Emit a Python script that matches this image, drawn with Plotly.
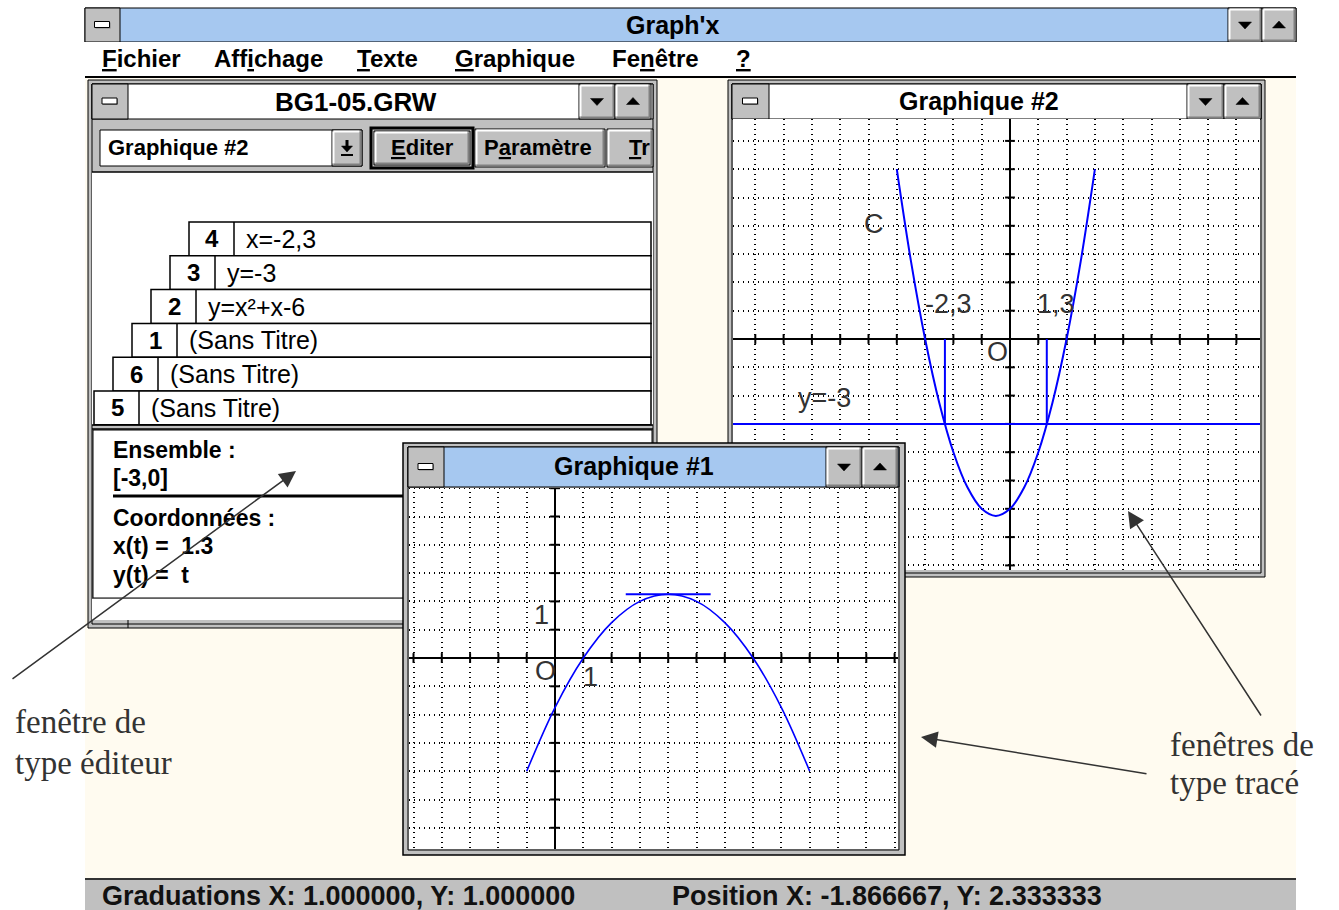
import plotly.graph_objects as go

W, H = 1339, 910
U = 28.3  # pixels per graph unit (both plot windows)

# ---------------- data / texts ----------------
MENU_ITEMS = ["<u>F</u>ichier", "Aff<u>i</u>chage", "<u>T</u>exte", "<u>G</u>raphique", "Fe<u>n</u>être", "<u>?</u>"]
MENU_X = [102, 214, 357, 455, 612, 736]

ROW_NUMS = ["4", "3", "2", "1", "6", "5"]
ROW_LABELS = ["x=-2,3", "y=-3", "y=x²+x-6", "(Sans Titre)", "(Sans Titre)", "(Sans Titre)"]

INFO_LINES = ["Ensemble :", "[-3,0]", "Coordonnées :", "x(t) =\u00a0\u00a01.3", "y(t) =\u00a0\u00a0t"]
INFO_Y = [450, 478, 518, 546, 575]

# Graphique #2 : y = x²+x-6 (points read on the plot)
G2_CURVE_X = [-4, -3.5, -3, -2.5, -2, -1.5, -1, -0.5, 0, 0.5, 1, 1.5, 2, 2.5, 3]
G2_CURVE_Y = [6, 2.75, 0, -2.25, -4, -5.25, -6, -6.25, -6, -5.25, -4, -2.25, 0, 2.75, 6]
G2_HLINE_X = [-10, 9]
G2_HLINE_Y = [-3, -3]
G2_VSEG_X = [-2.3, 1.3]
G2_VSEG_Y = [0, -3]
G2_LABELS = ["C", "-2,3", "1,3", "O", "y=-3"]
G2_LABEL_X = [-4.81, -2.19, 1.61, -0.44, -6.54]
G2_LABEL_Y = [4.06, 1.24, 1.24, -0.46, -2.08]
G2_TICKS_X = list(range(-9, 9))
G2_TICKS_Y = list(range(-8, 8))

# Graphique #1 : parabole + tangente horizontale au sommet
G1_CURVE_X = [-1, 0, 1, 2, 3, 4, 5, 6, 7, 8, 9]
G1_CURVE_Y = [-4, -1.75, 0, 1.25, 2, 2.25, 2, 1.25, 0, -1.75, -4]
G1_TAN_X = [2.5, 5.5]
G1_TAN_Y = [2.25, 2.25]
G1_LABELS = ["1", "O", "1"]
G1_LABEL_X = [-0.46, -0.32, 1.27]
G1_LABEL_Y = [1.52, -0.46, -0.67]
G1_TICKS_X = list(range(-5, 13))
G1_TICKS_Y = list(range(-6, 7))

STATUS_TEXTS = ["Graduations X: 1.000000, Y: 1.000000", "Position X: -1.866667, Y: 2.333333"]
STATUS_X = [102, 672]

NOTE_LEFT = ["fenêtre de", "type éditeur"]
NOTE_RIGHT = ["fenêtres de", "type tracé"]

# ---------------- style ----------------
GREY = '#c0c0c0'
DARK = '#808080'
BLUE = '#a6c8f0'
CREAM = '#fffbf0'
CURVE = '#0000ff'
UI = 'Liberation Sans, Arial, sans-serif'
SERIF = 'Liberation Serif, Times New Roman, serif'


def X(p):
    return p / W


def Y(p):
    return 1 - p / H


shapes, annotations = [], []


def rect(x0, y0, x1, y1, fill=None, line=None, lw=1, layer='below'):
    shapes.append(dict(type='rect', xref='paper', yref='paper',
                       x0=X(x0), x1=X(x1), y0=Y(y1), y1=Y(y0),
                       fillcolor=fill or 'rgba(0,0,0,0)',
                       line=dict(color=line or 'rgba(0,0,0,0)', width=lw if line else 0),
                       layer=layer))


def seg(x0, y0, x1, y1, color='#000', lw=1, layer='below'):
    shapes.append(dict(type='line', xref='paper', yref='paper',
                       x0=X(x0), y0=Y(y0), x1=X(x1), y1=Y(y1),
                       line=dict(color=color, width=lw), layer=layer))


def poly(pts, color='#000', layer='below'):
    d = 'M ' + ' L '.join(f'{X(a):.5f},{Y(b):.5f}' for a, b in pts) + ' Z'
    shapes.append(dict(type='path', xref='paper', yref='paper', path=d,
                       fillcolor=color, line=dict(color=color, width=0.5), layer=layer))


def button(x0, y0, x1, y1, glyph=None, layer='below', lw=1):
    rect(x0, y0, x1, y1, GREY, '#000', lw, layer)
    o = 1 + lw / 2
    seg(x0 + o, y0 + o, x1 - o - 1, y0 + o, '#fff', 2, layer)
    seg(x0 + o, y0 + o, x0 + o, y1 - o - 1, '#fff', 2, layer)
    seg(x0 + o, y1 - o, x1 - o, y1 - o, DARK, 2, layer)
    seg(x1 - o, y0 + o, x1 - o, y1 - o, DARK, 2, layer)
    cx, cy = (x0 + x1) / 2, (y0 + y1) / 2
    if glyph == 'down':
        poly([(cx - 6.5, cy - 3), (cx + 6.5, cy - 3), (cx, cy + 4)], '#000', layer)
    elif glyph == 'up':
        poly([(cx - 6.5, cy + 3), (cx + 6.5, cy + 3), (cx, cy - 4)], '#000', layer)
    elif glyph == 'ddown':
        rect(cx - 1.5, cy - 8, cx + 1.5, cy - 2, '#000', None, 0, layer)
        poly([(cx - 5.5, cy - 2), (cx + 5.5, cy - 2), (cx, cy + 4)], '#000', layer)
        seg(cx - 6, cy + 7, cx + 6, cy + 7, '#000', 2, layer)


def sysbutton(x0, y0, x1, y1, layer='below'):
    rect(x0, y0, x1, y1, GREY, '#000', 1, layer)
    cx, cy = (x0 + x1) / 2, (y0 + y1) / 2
    rect(cx - 7, cy - 2.5, cx + 8, cy + 3.5, DARK, None, 0, layer)
    rect(cx - 8, cy - 3.5, cx + 7, cy + 2.5, '#fff', '#000', 1, layer)


def text(x, y, s, size, family=UI, color='#000', anchor='center', ref=None):
    if ref is None:
        xx, yy, xr, yr = X(x), Y(y), 'paper', 'paper'
    else:
        xx, yy, xr, yr = x, y, ref[0], ref[1]
    annotations.append(dict(x=xx, y=yy, xref=xr, yref=yr, text=s, showarrow=False,
                            xanchor=anchor, yanchor='middle',
                            font=dict(family=family, size=size, color=color)))


def arrow(tail, head):
    annotations.append(dict(x=X(head[0]), y=Y(head[1]), xref='paper', yref='paper',
                            ax=tail[0] - head[0], ay=tail[1] - head[1],
                            axref='pixel', ayref='pixel', text='', showarrow=True,
                            arrowhead=2, arrowsize=2.2, arrowwidth=1.5, arrowcolor='#333'))


# ---------------- main window ----------------
rect(85, 78, 1296, 879, CREAM)
rect(85, 8, 1296, 42, BLUE, '#000', 1)
sysbutton(85, 8, 120, 42)
button(1228, 8, 1262, 42, 'down')
button(1262, 8, 1296, 42, 'up')
text(673, 25, "<b>Graph'x</b>", 25)
rect(85, 42, 1296, 76, '#fff')
seg(85, 77, 1296, 77, '#000', 2)
for s, x in zip(MENU_ITEMS, MENU_X):
    text(x - 2, 59, f"<b>{s}</b>", 24, anchor='left')
seg(85, 879, 1296, 879, '#333', 2)
rect(85, 880, 1296, 910, GREY)
for s, x in zip(STATUS_TEXTS, STATUS_X):
    text(x - 2, 896, f"<b>{s}</b>", 27, color='#111', anchor='left')

# ---------------- editor window ----------------
rect(88, 80, 657, 628, GREY, '#000', 1)
rect(92, 84, 653, 624, None, '#000', 1)
rect(92, 84, 653, 119, '#fff', '#000', 1)
sysbutton(92, 84, 128, 119)
button(579, 84, 615, 119, 'down')
button(615, 84, 651, 119, 'up')
text(356, 102, "<b>BG1-05.GRW</b>", 26)
rect(100, 130, 362, 166, '#fff', '#000', 1)
button(332, 130, 362, 166, 'ddown')
text(106, 148, "<b>Graphique #2</b>", 22, anchor='left')
rect(371, 128, 473, 168, GREY, '#000', 3)
button(374, 131, 470, 165)
text(422, 148, "<b><u>E</u>diter</b>", 22)
button(475, 129, 605, 167)
text(538, 148, "<b>P<u>a</u>ramètre</b>", 22)
button(607, 129, 653, 167)
text(627, 148, "<b><u>T</u>r</b>", 22, anchor='left')
rect(92, 172, 653, 425, '#fff')
seg(92, 172, 653, 172, '#000', 1.5)
for i, (n, lab) in enumerate(zip(ROW_NUMS, ROW_LABELS)):
    xl = 189 - 19 * i
    yt = 222 + 33.8 * i
    rect(xl, yt, 651, yt + 33.8, '#fff', '#000', 1.5)
    seg(xl + 45, yt, xl + 45, yt + 33.8, '#000', 1.5)
    text(xl + 23, yt + 17, f"<b>{n}</b>", 24)
    text(xl + 55, yt + 17, lab, 25, anchor='left')
seg(92, 425, 653, 425, '#000', 1.5)
seg(92, 429, 653, 429, '#000', 1.5)
rect(93, 430, 652, 598, '#fff', '#000', 1)
rect(92, 599, 653, 620, '#fff')
seg(128, 620, 128, 628, '#000', 1)
for s, y in zip(INFO_LINES, INFO_Y):
    text(111, y, f"<b>{s}</b>", 23, anchor='left')
seg(113, 496, 420, 496, '#000', 3)

# ---------------- Graphique #2 window (below Graphique #1) ----------------
rect(728, 80, 1265, 577, GREY, '#000', 1)
rect(732, 84, 1261, 573, None, '#000', 1)
rect(732, 84, 1261, 119, '#fff', '#000', 1)
sysbutton(732, 84, 769, 119)
button(1187, 84, 1224, 119, 'down')
button(1224, 84, 1261, 119, 'up')
text(979, 101, "<b>Graphique #2</b>", 25)
rect(733, 119, 1260, 570, '#fff')

# ---------------- Graphique #1 window (on top: layer above, outside plot area) ----------------
A = 'above'
rect(403, 443, 905, 488, GREY, None, 0, A)
rect(403, 488, 409, 855, GREY, None, 0, A)
rect(898, 488, 905, 855, GREY, None, 0, A)
rect(403, 849, 905, 855, GREY, None, 0, A)
rect(403, 443, 905, 855, None, '#000', 1.5, A)
rect(408, 447, 899, 850, None, '#000', 1, A)
rect(408, 447, 899, 487, BLUE, '#000', 1, A)
sysbutton(408, 447, 444, 487, A)
button(826, 447, 862, 487, 'down', A)
button(862, 447, 898, 487, 'up', A)
text(634, 466, "<b>Graphique #1</b>", 25)

# ---------------- graph labels ----------------
for s, x, y in zip(G2_LABELS, G2_LABEL_X, G2_LABEL_Y):
    text(x, y, s, 27, color='#333', ref=('x', 'y'))
for s, x, y in zip(G1_LABELS, G1_LABEL_X, G1_LABEL_Y):
    text(x, y, s, 27, color='#333', ref=('x2', 'y2'))

# ---------------- notes and arrows ----------------
for s, y in zip(NOTE_LEFT, [722, 763]):
    text(13, y, s, 33, family=SERIF, color='#333', anchor='left')
for s, y in zip(NOTE_RIGHT, [745, 783]):
    text(1168, y, s, 33, family=SERIF, color='#333', anchor='left')
arrow((11, 680), (296, 471))
arrow((1262, 717), (1128, 511))
arrow((1148, 774), (921, 737))

# ---------------- traces ----------------
fig = go.Figure()


def line_tr(x, y, ax, w=2, shape='linear'):
    fig.add_trace(go.Scatter(x=x, y=y, mode='lines', xaxis=ax[0], yaxis=ax[1],
                             line=dict(color=CURVE, width=w, shape=shape),
                             hoverinfo='skip', showlegend=False))


def ticks_tr(xt, yt, ax):
    fig.add_trace(go.Scatter(x=xt, y=[0] * len(xt), mode='markers', xaxis=ax[0], yaxis=ax[1],
                             marker=dict(symbol='line-ns', size=7, line=dict(width=2, color='#000')),
                             hoverinfo='skip', showlegend=False))
    fig.add_trace(go.Scatter(x=[0] * len(yt), y=yt, mode='markers', xaxis=ax[0], yaxis=ax[1],
                             marker=dict(symbol='line-ew', size=7, line=dict(width=2, color='#000')),
                             hoverinfo='skip', showlegend=False))


ticks_tr(G2_TICKS_X, G2_TICKS_Y, ('x', 'y'))
line_tr(G2_CURVE_X, G2_CURVE_Y, ('x', 'y'), 2, 'spline')
line_tr(G2_HLINE_X, G2_HLINE_Y, ('x', 'y'), 2)
for vx in G2_VSEG_X:
    line_tr([vx, vx], G2_VSEG_Y, ('x', 'y'), 2)

ticks_tr(G1_TICKS_X, G1_TICKS_Y, ('x2', 'y2'))
line_tr(G1_CURVE_X, G1_CURVE_Y, ('x2', 'y2'), 1.6, 'spline')
line_tr(G1_TAN_X, G1_TAN_Y, ('x2', 'y2'), 2)


def axis(dom, rng, anchor):
    return dict(domain=dom, range=rng, anchor=anchor, showgrid=True, gridcolor='#000',
                gridwidth=1.5, griddash='1px,4px', zeroline=True, zerolinecolor='#000',
                zerolinewidth=2, showticklabels=False, ticks='', showline=False,
                tickmode='linear', tick0=0, dtick=1, fixedrange=True)


fig.update_layout(
    width=W, height=H, margin=dict(l=0, r=0, t=0, b=0),
    paper_bgcolor='#fff', plot_bgcolor='#fff', showlegend=False,
    xaxis=axis([X(733), X(1260)], [(733 - 1010) / U, (1260 - 1010) / U], 'y'),
    yaxis=axis([Y(570), Y(119)], [(339 - 570) / U, (339 - 119) / U], 'x'),
    xaxis2=axis([X(409), X(898)], [(409 - 555) / U, (898 - 555) / U], 'y2'),
    yaxis2=axis([Y(849), Y(487)], [(658 - 849) / U, (658 - 487) / U], 'x2'),
    shapes=shapes, annotations=annotations,
)

fig.write_html("out.html", config={'displayModeBar': False},
               post_script="document.body.style.margin='0px';")
